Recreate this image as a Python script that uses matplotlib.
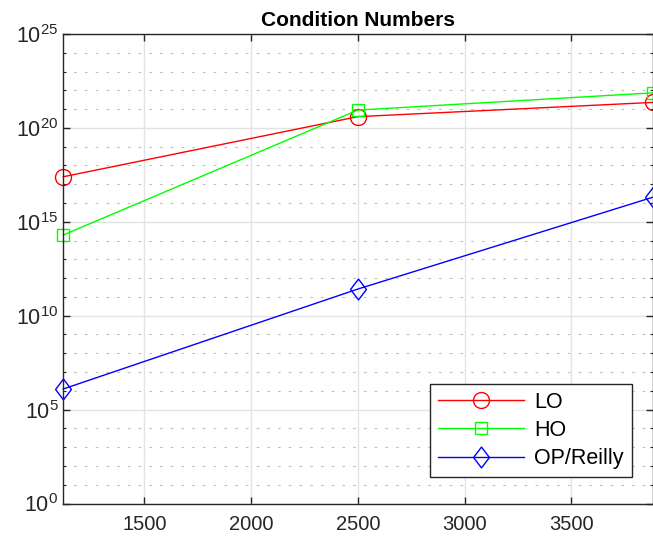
import math
import matplotlib.pyplot as plt
from matplotlib.path import Path
from matplotlib.ticker import FixedLocator, FuncFormatter

plt.rcParams['font.family'] = ['Liberation Sans', 'DejaVu Sans']
plt.rcParams['mathtext.fontset'] = 'custom'
plt.rcParams['mathtext.rm'] = 'Liberation Sans'
plt.rcParams['mathtext.default'] = 'regular'

# data
n_points = [1120, 2500, 3885]
lo = [10**17.40, 10**20.60, 10**21.36]
ho = [10**14.30, 10**20.95, 10**21.87]
op_reilly = [10**6.10, 10**11.42, 10**16.32]
x_ticks = [1500, 2000, 2500, 3000, 3500]
y_exps = [0, 5, 10, 15, 20, 25]

# matlab-like wide diamond
diamond = Path([(0, 1), (0.76, 0), (0, -1), (-0.76, 0), (0, 1)],
               [Path.MOVETO, Path.LINETO, Path.LINETO, Path.LINETO, Path.CLOSEPOLY])

dark = '#262626'
fig = plt.figure(figsize=(6.53, 5.41), dpi=100)
ax = fig.add_axes([0.0969, 0.0693, 0.9038, 0.8678])

ax.plot(n_points, lo, color='red', lw=1, marker='o', ms=11.5, mfc='none', mew=1, label='LO', clip_on=False)
ax.plot(n_points, ho, color='#00ff00', lw=1, marker='s', ms=8, mfc='none', mew=1, label='HO', clip_on=False)
ax.plot(n_points, op_reilly, color='blue', lw=1, marker=diamond, ms=15, mfc='none', mew=1,
        label='OP/Reilly', clip_on=False)

ax.set_yscale('log')
ax.set_xlim(n_points[0], n_points[-1])
ax.set_ylim(1e0, 1e25)
ax.set_xticks(x_ticks)
ax.yaxis.set_major_locator(FixedLocator([10.0**e for e in y_exps]))
ax.yaxis.set_minor_locator(FixedLocator([10.0**e for e in range(26) if e % 5]))
ax.yaxis.set_major_formatter(FuncFormatter(lambda v, p: r'$10^{%d}$' % round(math.log10(v))))
ax.yaxis.set_minor_formatter(FuncFormatter(lambda v, p: ''))

ax.grid(True, which='major', color='#e3e3e3', lw=1, ls='-')
ax.grid(True, which='minor', axis='y', color='#bdbdbd', lw=0.75, ls=(0, (2.5, 7.8)))
ax.set_axisbelow(True)

ax.tick_params(which='both', direction='in', top=True, right=True, colors=dark, labelsize=14.5)
ax.tick_params(axis='y', labelsize=15.5)
ax.tick_params(which='major', length=5, width=1)
ax.tick_params(which='minor', length=2.5, width=0.8)
ax.tick_params(axis='x', pad=8)
for s in ax.spines.values():
    s.set_color(dark)
    s.set_linewidth(1)

ax.set_title('Condition Numbers', fontsize=15, fontweight='bold', pad=6)

leg = ax.legend(loc='lower right', bbox_to_anchor=(0.963, 0.0558), borderaxespad=0, fontsize=15.5,
                handlelength=4.0, handletextpad=0.45, labelspacing=0.33, borderpad=0.38,
                fancybox=False, framealpha=1, edgecolor=dark)
leg.get_frame().set_linewidth(1)

fig.savefig('out.png', dpi=100)
